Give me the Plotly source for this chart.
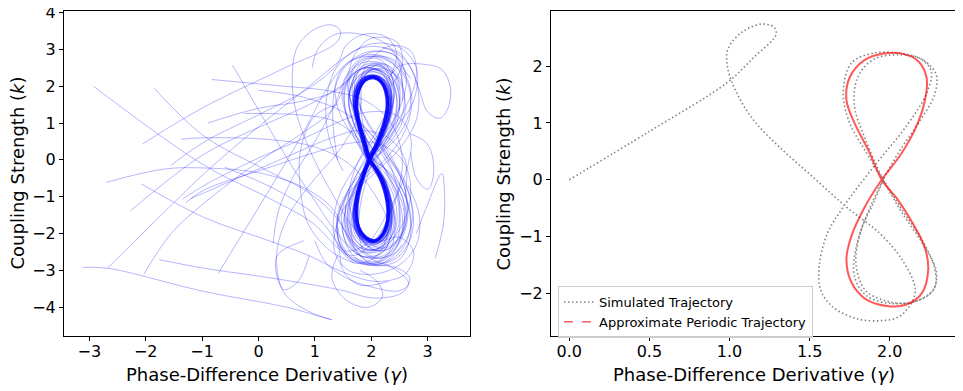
import plotly.graph_objects as go

# ---------------- left panel: many initial conditions (gamma, k) ----------------
core_loop = [(1.97, 0.0), (1.88, 0.5), (1.79, 1.0), (1.74, 1.45), (1.77, 1.85), (1.88, 2.15), (2.03, 2.24),
             (2.16, 2.14), (2.26, 1.85), (2.29, 1.45), (2.23, 0.95), (2.11, 0.45), (1.97, 0.0), (1.86, -0.45),
             (1.77, -0.95), (1.74, -1.45), (1.78, -1.85), (1.92, -2.13), (2.07, -2.19), (2.2, -2.0),
             (2.29, -1.6), (2.29, -1.15), (2.2, -0.6), (2.08, -0.25), (1.97, 0.0)]
core_loop_b = [(1.95, 0.02), (1.85, 0.55), (1.77, 1.05), (1.73, 1.5), (1.78, 1.9), (1.9, 2.17), (2.05, 2.22),
               (2.18, 2.1), (2.27, 1.8), (2.28, 1.4), (2.2, 0.9), (2.08, 0.4), (1.95, 0.02), (1.84, -0.5),
               (1.75, -1.0), (1.73, -1.5), (1.8, -1.9), (1.95, -2.15), (2.1, -2.17), (2.23, -1.95),
               (2.3, -1.55), (2.27, -1.05), (2.17, -0.55), (2.06, -0.2), (1.95, 0.02)]
core_loop_c = [(1.98, 0.0), (1.88, 0.5), (1.77, 1.0), (1.71, 1.45), (1.74, 1.88), (1.86, 2.18), (2.02, 2.27),
               (2.17, 2.17), (2.28, 1.88), (2.32, 1.45), (2.25, 0.95), (2.12, 0.45), (1.98, 0.0), (1.85, -0.45),
               (1.75, -0.95), (1.71, -1.45), (1.75, -1.88), (1.9, -2.16), (2.07, -2.22), (2.22, -2.03),
               (2.31, -1.62), (2.31, -1.15), (2.22, -0.6), (2.09, -0.25), (1.98, 0.0)]

near_a = [(1.97, 0.0), (1.86, 0.5), (1.75, 1.0), (1.69, 1.5), (1.73, 1.95), (1.86, 2.24), (2.03, 2.31),
          (2.2, 2.2), (2.31, 1.9), (2.34, 1.45), (2.27, 0.95), (2.13, 0.45), (1.97, 0.0), (1.84, -0.45),
          (1.73, -0.98), (1.68, -1.5), (1.73, -1.95), (1.89, -2.26), (2.07, -2.3), (2.24, -2.1), (2.34, -1.7),
          (2.34, -1.15), (2.24, -0.6), (2.1, -0.25), (1.97, 0.0)]
near_b = [(2.0, 0.0), (1.9, 0.5), (1.8, 1.05), (1.76, 1.5), (1.8, 1.92), (1.93, 2.2), (2.08, 2.28),
          (2.23, 2.17), (2.33, 1.88), (2.36, 1.45), (2.29, 0.95), (2.15, 0.45), (2.0, 0.0), (1.88, -0.45),
          (1.79, -1.0), (1.76, -1.5), (1.81, -1.92), (1.96, -2.2), (2.12, -2.25), (2.27, -2.05), (2.36, -1.65),
          (2.35, -1.15), (2.26, -0.6), (2.12, -0.25), (2.0, 0.0)]
near_c = [(1.93, 0.0), (1.83, 0.5), (1.74, 1.05), (1.69, 1.5), (1.72, 1.92), (1.84, 2.2), (1.99, 2.28),
          (2.13, 2.17), (2.23, 1.88), (2.26, 1.45), (2.2, 0.95), (2.07, 0.45), (1.93, 0.0), (1.81, -0.45),
          (1.72, -1.0), (1.68, -1.5), (1.72, -1.92), (1.87, -2.2), (2.03, -2.25), (2.18, -2.05), (2.27, -1.65),
          (2.26, -1.15), (2.17, -0.6), (2.04, -0.25), (1.93, 0.0)]

halo_a = [(1.97, 0.0), (1.83, 0.5), (1.68, 1.05), (1.6, 1.6), (1.67, 2.05), (1.85, 2.38), (2.05, 2.45),
          (2.26, 2.32), (2.42, 1.95), (2.45, 1.45), (2.35, 0.9), (2.16, 0.4), (1.97, 0.0), (1.8, -0.45),
          (1.66, -1.0), (1.6, -1.55), (1.66, -2.05), (1.86, -2.38), (2.08, -2.42), (2.3, -2.2), (2.44, -1.8),
          (2.44, -1.25), (2.32, -0.7), (2.14, -0.28), (1.97, 0.0)]
halo_b = [(1.95, 0.05), (1.75, 0.6), (1.56, 1.2), (1.48, 1.8), (1.58, 2.3), (1.82, 2.62), (2.08, 2.66),
          (2.36, 2.5), (2.55, 2.05), (2.58, 1.45), (2.45, 0.85), (2.2, 0.35), (1.95, 0.05), (1.74, -0.4),
          (1.55, -1.0), (1.47, -1.65), (1.56, -2.25), (1.82, -2.6), (2.1, -2.65), (2.38, -2.45), (2.56, -1.95),
          (2.57, -1.3), (2.4, -0.7), (2.18, -0.25), (1.95, 0.05)]
halo_c = [(1.9, 0.1), (1.72, 0.7), (1.55, 1.3), (1.52, 1.9), (1.68, 2.35), (1.95, 2.5), (2.2, 2.35),
          (2.35, 1.9), (2.35, 1.3), (2.2, 0.7), (2.02, 0.2), (1.88, -0.3), (1.78, -0.9), (1.72, -1.5),
          (1.78, -2.0), (1.98, -2.4), (2.25, -2.45), (2.5, -2.15), (2.62, -1.6), (2.55, -1.0), (2.32, -0.4),
          (2.08, 0.0), (1.9, 0.1)]
halo_d = [(2.0, 0.0), (1.9, 0.6), (1.82, 1.3), (1.8, 2.0), (1.9, 2.5), (2.08, 2.62), (2.25, 2.45),
          (2.35, 2.0), (2.33, 1.3), (2.2, 0.6), (2.05, 0.05), (1.9, -0.6), (1.8, -1.3), (1.78, -2.0),
          (1.88, -2.5), (2.06, -2.62), (2.24, -2.45), (2.35, -1.95), (2.33, -1.25), (2.18, -0.55), (2.0, 0.0)]
halo_e = [(1.4, 0.0), (1.32, 1.0), (1.35, 1.9), (1.55, 2.55), (1.9, 2.85), (2.3, 2.75), (2.6, 2.3),
          (2.72, 1.6), (2.6, 0.8), (2.3, 0.1), (1.95, -0.4), (1.6, -0.9), (1.4, -1.6), (1.45, -2.3),
          (1.7, -2.75), (2.1, -2.85), (2.5, -2.6), (2.72, -2.0), (2.72, -1.2), (2.5, -0.4), (2.2, 0.2)]
halo_f = [(2.05, -0.1), (2.25, 0.5), (2.42, 1.1), (2.45, 1.7), (2.3, 2.2), (2.05, 2.4), (1.8, 2.3),
          (1.62, 1.9), (1.62, 1.3), (1.78, 0.7), (2.0, 0.05), (2.2, -0.6), (2.38, -1.2), (2.42, -1.8),
          (2.25, -2.3), (1.98, -2.45), (1.72, -2.3), (1.58, -1.8), (1.6, -1.2), (1.78, -0.6), (2.05, -0.1)]
halo_g = [(1.5, -0.3), (1.25, 0.6), (1.2, 1.6), (1.38, 2.5), (1.75, 3.0), (2.2, 3.05), (2.6, 2.7),
          (2.82, 2.0), (2.8, 1.1), (2.5, 0.3), (2.1, -0.3), (1.7, -0.9), (1.4, -1.7), (1.35, -2.5),
          (1.6, -3.0), (2.05, -3.1), (2.5, -2.85), (2.8, -2.3), (2.85, -1.5), (2.65, -0.7)]
halo_h = [(1.96, 0.0), (1.84, 0.5), (1.72, 1.05), (1.67, 1.6), (1.73, 2.05), (1.88, 2.32), (2.05, 2.38),
          (2.22, 2.26), (2.35, 1.9), (2.38, 1.4), (2.3, 0.9), (2.14, 0.4), (1.96, 0.0), (1.82, -0.5),
          (1.7, -1.05), (1.66, -1.6), (1.72, -2.05), (1.9, -2.32), (2.08, -2.36), (2.26, -2.15), (2.37, -1.75),
          (2.37, -1.2), (2.26, -0.65), (2.1, -0.25), (1.96, 0.0)]
halo_i = [(1.93, -0.05), (1.83, 0.5), (1.74, 1.1), (1.72, 1.7), (1.82, 2.2), (2.02, 2.45), (2.25, 2.4),
          (2.42, 2.1), (2.5, 1.6), (2.45, 1.0), (2.25, 0.4), (2.02, 0.0), (1.82, -0.4), (1.65, -0.95),
          (1.58, -1.55), (1.64, -2.1), (1.84, -2.42), (2.05, -2.45), (2.22, -2.25), (2.32, -1.85),
          (2.32, -1.3), (2.2, -0.7), (2.05, -0.3), (1.93, -0.05)]
halo_j = [(1.9, 0.05), (1.72, 0.55), (1.58, 1.1), (1.52, 1.65), (1.58, 2.1), (1.76, 2.42), (1.98, 2.5),
          (2.18, 2.36), (2.32, 1.98), (2.35, 1.45), (2.25, 0.9), (2.08, 0.42), (1.9, 0.05), (1.74, -0.4),
          (1.6, -0.95), (1.53, -1.55), (1.6, -2.1), (1.8, -2.45), (2.02, -2.5), (2.22, -2.3), (2.35, -1.85),
          (2.35, -1.25), (2.22, -0.65), (2.06, -0.25), (1.9, 0.05)]
halo_k = [(2.05, 0.0), (1.93, 0.5), (1.8, 1.05), (1.74, 1.6), (1.8, 2.1), (1.98, 2.42), (2.2, 2.48),
          (2.42, 2.3), (2.56, 1.9), (2.6, 1.35), (2.48, 0.8), (2.26, 0.35), (2.05, 0.0), (1.9, -0.45),
          (1.78, -1.0), (1.74, -1.6), (1.82, -2.1), (2.02, -2.42), (2.25, -2.45), (2.45, -2.2), (2.58, -1.75),
          (2.58, -1.2), (2.45, -0.65), (2.24, -0.25), (2.05, 0.0)]
halo_l = [(1.98, 0.0), (1.85, 0.6), (1.72, 1.25), (1.66, 1.9), (1.74, 2.45), (1.95, 2.75), (2.18, 2.7),
          (2.35, 2.35), (2.4, 1.8), (2.32, 1.1), (2.15, 0.45), (1.98, 0.0), (1.82, -0.55), (1.7, -1.2),
          (1.64, -1.9), (1.72, -2.45), (1.94, -2.75), (2.18, -2.7), (2.36, -2.35), (2.42, -1.75),
          (2.33, -1.05), (2.16, -0.4), (1.98, 0.0)]
halo_m = [(1.95, 0.1), (1.65, 0.7), (1.42, 1.35), (1.36, 2.0), (1.52, 2.55), (1.85, 2.8), (2.2, 2.75),
          (2.5, 2.45), (2.68, 1.9), (2.66, 1.2), (2.45, 0.6), (2.15, 0.15), (1.85, -0.3), (1.58, -0.85),
          (1.4, -1.5), (1.42, -2.2), (1.65, -2.7), (2.0, -2.85), (2.35, -2.7), (2.6, -2.3), (2.7, -1.6),
          (2.58, -0.9), (2.3, -0.3), (1.95, 0.1)]
halo_n = [(2.05, 0.2), (1.85, 0.75), (1.68, 1.3), (1.62, 1.85), (1.72, 2.3), (1.95, 2.55), (2.2, 2.5),
          (2.4, 2.2), (2.5, 1.7), (2.45, 1.15), (2.28, 0.6), (2.05, 0.2), (1.85, -0.3), (1.7, -0.9),
          (1.62, -1.5), (1.68, -2.05), (1.88, -2.4), (2.12, -2.45), (2.34, -2.22), (2.48, -1.8),
          (2.48, -1.2), (2.34, -0.6), (2.18, -0.1), (2.05, 0.2)]

tr01 = [(-2.93, 2.0), (-0.97, -0.14), (0.2, -1.05), (0.95, -1.7), (1.45, -2.45), (1.85, -2.8), (2.3, -2.65),
        (2.55, -1.9), (2.45, -0.9), (2.15, 0.0), (1.8, 0.9), (1.68, 1.8), (1.9, 2.4), (2.25, 2.35), (2.4, 1.7),
        (2.25, 0.8)]
tr02 = [(-1.85, 1.94), (-0.97, 0.65), (0.1, -0.25), (0.9, -0.9), (1.4, -1.6), (1.7, -2.4), (2.05, -2.85),
        (2.5, -2.7), (2.7, -2.0), (2.6, -1.0), (2.25, 0.0), (1.85, 0.9), (1.6, 1.9), (1.75, 2.6), (2.15, 2.8),
        (2.5, 2.4), (2.55, 1.6)]
tr03 = [(-2.06, 0.43), (-0.97, 1.43), (0.4, 2.45), (1.39, 3.2), (1.45, 3.5), (1.3, 3.66), (1.0, 3.55),
        (0.7, 3.1), (0.6, 2.4), (0.65, 1.4), (0.9, 0.3), (1.3, -0.9), (1.75, -1.95), (2.2, -2.4), (2.55, -2.0),
        (2.62, -1.0), (2.35, 0.1), (1.95, 1.0), (1.7, 1.9), (1.85, 2.55), (2.3, 2.55), (2.5, 1.9)]
tr04 = [(-0.83, 2.18), (0.3, 2.02), (1.3, 1.86), (1.9, 1.6), (2.35, 1.0), (2.55, 0.0), (2.4, -1.2),
        (2.05, -2.2), (1.65, -2.6), (1.35, -2.1), (1.4, -1.1), (1.75, -0.1), (2.2, 0.9), (2.42, 1.9),
        (2.2, 2.55), (1.8, 2.45), (1.6, 1.7), (1.75, 0.7)]
tr05 = [(-0.46, 2.57), (0.56, -0.09), (0.95, -1.0), (1.35, -1.9), (1.8, -2.6), (2.3, -2.6), (2.62, -1.8),
        (2.6, -0.8), (2.25, 0.25), (1.88, 1.15), (1.75, 2.05), (2.05, 2.55), (2.45, 2.25), (2.5, 1.35)]
tr06 = [(-2.7, -0.61), (-1.68, -0.25), (-0.97, -0.22), (0.0, -0.35), (0.8, -0.75), (1.3, -1.3), (1.6, -2.1),
        (2.0, -2.65), (2.45, -2.5), (2.72, -1.7), (2.6, -0.6), (2.2, 0.3), (1.75, 1.2), (1.58, 2.1),
        (1.85, 2.75), (2.35, 2.75), (2.7, 2.2)]
tr07 = [(-2.08, -0.65), (-0.97, -1.56), (0.1, -2.15), (0.9, -2.6), (1.5, -3.05), (2.1, -3.3), (2.6, -3.1),
        (2.75, -2.5), (2.5, -2.1), (2.1, -2.2), (1.75, -1.8), (1.6, -1.0), (1.75, -0.1), (2.1, 0.8),
        (2.35, 1.7), (2.2, 2.4), (1.85, 2.5)]
tr08 = [(-2.27, -1.38), (-0.97, 0.15), (0.1, 0.95), (0.9, 1.5), (1.5, 2.05), (1.95, 2.7), (2.35, 3.1),
        (2.7, 2.95), (2.8, 2.3), (2.6, 1.4), (2.25, 0.6), (1.9, -0.2), (1.6, -1.1), (1.5, -2.0), (1.75, -2.7),
        (2.2, -2.8), (2.55, -2.3)]
tr09 = [(-1.35, -1.07), (-0.97, -0.7), (0.0, 0.05), (0.9, 0.65), (1.45, 1.05), (1.95, 1.3), (2.45, 1.2),
        (2.7, 0.6), (2.6, -0.4), (2.3, -1.4), (1.9, -2.3), (1.5, -2.45), (1.4, -1.7), (1.6, -0.8)]
tr10 = [(-1.29, -1.16), (-0.97, -0.82), (0.1, -0.25), (1.0, 0.2), (1.6, 0.45), (2.1, 0.45), (2.55, 0.0),
        (2.7, -0.9), (2.5, -1.9), (2.1, -2.5), (1.7, -2.4), (1.55, -1.6)]
tr11 = [(-2.68, -2.94), (-1.5, -1.16), (-0.97, -0.38), (0.0, 0.9), (0.9, 2.0), (1.5, 2.75), (2.0, 3.15),
        (2.5, 3.05), (2.8, 2.5), (2.75, 1.6), (2.45, 0.9), (2.1, 0.2)]
tr12 = [(-2.03, -3.09), (-1.55, -2.0), (-0.97, -1.18), (0.0, -0.05), (0.8, 0.75), (1.3, 1.35), (1.55, 2.1),
        (1.7, 2.85), (2.0, 3.3), (2.45, 3.2), (2.55, 2.6), (2.35, 2.0)]
tr13 = [(-1.76, -2.71), (-0.97, -2.94), (0.2, -3.2), (1.45, -3.53), (2.05, -3.75), (2.55, -3.6),
        (2.68, -3.2), (2.4, -2.9), (1.95, -2.85), (1.55, -2.5), (1.4, -1.8)]
tr14 = [(-3.12, -2.92), (-2.68, -2.94), (-0.97, -3.57), (0.5, -4.0), (1.3, -4.34), (0.9, -4.12),
        (0.45, -3.6), (0.32, -2.6), (0.5, -1.6), (0.95, -0.6), (1.45, 0.3), (1.8, 1.3), (1.85, 2.2),
        (2.15, 2.6), (2.5, 2.2)]
tr15 = [(-0.71, -3.07), (0.44, -0.18), (0.85, 0.9), (1.2, 1.9), (1.55, 2.6), (2.0, 2.95), (2.45, 2.8),
        (2.62, 2.2), (2.5, 1.4), (2.2, 0.6)]
tr16 = [(-0.25, 1.26), (0.74, 1.22), (1.35, 1.05), (1.75, 0.6), (2.05, 0.0), (2.3, -0.8), (2.4, -1.7),
        (2.2, -2.5), (1.8, -2.6), (1.55, -2.0), (1.55, -1.2)]
tr17 = [(0.26, -2.26), (0.35, -1.4), (0.6, -0.5), (1.0, 0.5), (1.35, 1.5), (1.6, 2.4), (1.95, 2.9),
        (2.4, 2.85), (2.62, 2.3)]
tr18 = [(-1.56, -0.16), (-0.97, 0.48), (0.1, 1.3), (0.9, 1.95), (1.4, 2.6), (1.55, 3.1), (1.85, 3.4),
        (2.25, 3.35), (2.45, 2.9), (2.35, 2.3)]
tr19 = [(-1.37, 0.56), (-0.97, 0.6), (0.2, 0.55), (1.0, 0.35), (1.6, -0.1), (2.0, -0.8), (2.3, -1.8),
        (2.1, -2.6), (1.7, -2.8), (1.4, -2.3)]
tr20 = [(0.0, 1.89), (0.8, 1.7), (1.5, 1.3), (2.0, 0.7), (2.35, -0.2), (2.5, -1.2), (2.45, -2.2),
        (2.1, -2.8), (1.7, -2.65)]
tr21 = [(-1.2, -1.05), (-0.3, -0.45), (0.6, 0.15), (1.3, 0.6), (1.8, 0.8), (2.3, 0.6), (2.6, 0.0),
        (2.6, -1.0)]
tr22 = [(-0.6, -0.2), (0.3, -0.8), (1.0, -1.5), (1.4, -2.3), (1.5, -3.0), (1.8, -3.4), (2.3, -3.3)]
tr23 = [(-0.9, 1.0), (0.0, 1.4), (0.8, 1.6), (1.4, 1.9), (1.7, 2.4)]

loop_top = [(0.95, 2.5), (1.05, 3.0), (1.35, 3.4), (1.85, 3.4), (2.3, 3.1), (2.5, 2.6), (2.55, 2.0)]
loop_right = [(2.3, 2.2), (2.5, 2.55), (2.9, 2.6), (3.25, 2.45), (3.4, 1.98), (3.37, 1.44), (3.22, 1.13),
              (3.0, 1.3), (2.85, 1.9), (2.7, 2.5), (2.5, 2.9), (2.2, 3.05)]
loop_right_b = [(2.7, 0.7), (2.95, 0.5), (3.07, 0.18), (3.1, -0.45), (3.0, -0.8), (2.8, -0.5), (2.7, 0.2)]
loop_right_c = [(2.8, -2.0), (3.0, -1.2), (3.25, -0.37), (3.3, -1.0), (3.28, -1.72), (3.2, -2.3),
                (3.13, -2.67)]
loop_bottom = [(1.4, -2.6), (1.3, -3.2), (1.55, -3.8), (1.95, -4.0), (2.2, -3.7), (2.1, -3.3), (1.8, -3.0)]
loop_bottom_b = [(2.0, -2.7), (2.45, -3.0), (2.66, -3.35), (2.5, -3.55), (2.0, -3.45), (1.55, -3.2),
                 (1.2, -2.8), (1.0, -2.2)]
loop_left = [(1.4, 1.5), (1.0, 1.2), (0.75, 0.3), (0.75, -0.9), (0.9, -1.8), (1.3, -2.5), (1.7, -2.8)]
loop_left_b = [(0.8, -2.2), (0.32, -2.62), (0.44, -3.52), (0.7, -3.3), (0.9, -2.6)]

thin_paths = [halo_a, halo_b, halo_c, halo_d, halo_e, halo_f, halo_g, halo_h, halo_i, halo_j,
              halo_k, halo_l, halo_m, halo_n,
              tr01, tr02, tr03, tr04, tr05, tr06, tr07, tr08, tr09, tr10, tr11, tr12,
              tr13, tr14, tr15, tr16, tr17, tr18, tr19, tr20, tr21, tr22, tr23,
              loop_top, loop_right, loop_right_b, loop_right_c,
              loop_bottom, loop_bottom_b, loop_left, loop_left_b]
near_paths = [near_a, near_b, near_c]
core_paths = [core_loop_c, core_loop_b, core_loop]

# ---------------- right panel: one simulated trajectory vs periodic orbit ----------------
sim_path = [(0.0, 0.0), (0.5, 0.85), (0.99, 1.72), (1.15, 2.15), (1.29, 2.55), (1.28, 2.68), (1.2, 2.74),
            (1.08, 2.6), (0.99, 2.3), (0.99, 1.95), (1.05, 1.5), (1.15, 1.05), (1.31, 0.58), (1.52, 0.05),
            (1.73, -0.48), (1.94, -0.95), (2.08, -1.42), (2.16, -1.94), (2.12, -2.24), (2.05, -2.42),
            (1.95, -2.48), (1.8, -2.45), (1.65, -2.25), (1.57, -1.95), (1.56, -1.53), (1.61, -0.95),
            (1.71, -0.48), (1.9, 0.23), (2.1, 0.93), (2.23, 1.52), (2.26, 1.9), (2.2, 2.12), (2.07, 2.22),
            (1.9, 2.23), (1.76, 2.05), (1.71, 1.52), (1.75, 1.0), (1.85, 0.5), (1.96, 0.0), (2.07, -0.5),
            (2.2, -1.05), (2.28, -1.55), (2.28, -1.9), (2.18, -2.12), (2.02, -2.18), (1.86, -2.05),
            (1.78, -1.7), (1.79, -1.2), (1.86, -0.6), (1.96, 0.0), (2.06, 0.5), (2.18, 1.0), (2.28, 1.5),
            (2.29, 1.85), (2.2, 2.12), (2.05, 2.2), (1.9, 2.12), (1.8, 1.8), (1.78, 1.3), (1.85, 0.7),
            (1.96, 0.0), (2.07, -0.55), (2.2, -1.1), (2.29, -1.6), (2.27, -1.95), (2.15, -2.15),
            (2.0, -2.15), (1.85, -1.95), (1.79, -1.5), (1.82, -0.9), (1.9, -0.4), (1.96, 0.0)]
periodic_loop = [(1.95, 0.0), (1.87, 0.5), (1.78, 1.0), (1.73, 1.4), (1.75, 1.8), (1.84, 2.1), (1.96, 2.22),
                 (2.08, 2.22), (2.18, 2.08), (2.23, 1.8), (2.22, 1.4), (2.16, 0.9), (2.07, 0.45), (1.95, 0.0),
                 (1.84, -0.5), (1.76, -1.0), (1.73, -1.4), (1.76, -1.8), (1.85, -2.1), (1.98, -2.22),
                 (2.1, -2.2), (2.2, -2.0), (2.24, -1.6), (2.22, -1.2), (2.14, -0.75), (2.05, -0.35), (1.95, 0.0)]


def xs(path):
    return [p[0] for p in path]


def ys(path):
    return [p[1] for p in path]


# the page puts the figure 8 px in from the top-left corner, so place everything in screen pixels minus 8
W, H, OFF = 963, 391, 8


def px_x(p):
    return (p - OFF) / W


def px_y(p):
    return 1 - (p - OFF) / H


fig = go.Figure()

for path in thin_paths:
    fig.add_trace(go.Scatter(x=xs(path), y=ys(path), mode='lines', showlegend=False,
                             line=dict(color='rgba(0,0,255,0.32)', width=0.9, shape='spline', smoothing=1.0),
                             xaxis='x', yaxis='y', hoverinfo='skip'))
for path in near_paths:
    fig.add_trace(go.Scatter(x=xs(path), y=ys(path), mode='lines', showlegend=False,
                             line=dict(color='rgba(0,0,255,0.45)', width=1.3, shape='spline', smoothing=1.0),
                             xaxis='x', yaxis='y', hoverinfo='skip'))
for path in core_paths:
    fig.add_trace(go.Scatter(x=xs(path), y=ys(path), mode='lines', showlegend=False,
                             line=dict(color='rgba(0,0,255,0.7)', width=3, shape='spline', smoothing=1.0),
                             xaxis='x', yaxis='y', hoverinfo='skip'))

fig.add_trace(go.Scatter(x=xs(sim_path), y=ys(sim_path), mode='lines', name='Simulated Trajectory',
                         line=dict(color='rgba(100,100,100,0.8)', width=1.6, dash='1.5px,2.5px',
                                   shape='spline', smoothing=1.0),
                         xaxis='x2', yaxis='y2'))
fig.add_trace(go.Scatter(x=xs(periodic_loop), y=ys(periodic_loop), mode='lines', showlegend=False,
                         line=dict(color='rgba(255,0,0,0.65)', width=2, shape='spline', smoothing=1.0),
                         xaxis='x2', yaxis='y2'))
fig.add_trace(go.Scatter(x=[None], y=[None], mode='lines', name='Approximate Periodic Trajectory',
                         line=dict(color='rgba(255,0,0,0.65)', width=1.5, dash='dash'),
                         xaxis='x2', yaxis='y2'))

axis_style = dict(showline=True, mirror=True, linecolor='black', linewidth=1, ticks='outside',
                  ticklen=4, tickcolor='black', showgrid=False, zeroline=False,
                  tickfont=dict(size=16, color='black'), automargin=False, ticklabeloverflow='allow')

x_title = 'Phase-Difference Derivative (<i>γ</i>)'
y_title = 'Coupling Strength (<i>k</i>)'

fig.update_layout(
    width=W, height=H,
    margin=dict(l=0, r=0, t=0, b=0),
    paper_bgcolor='white', plot_bgcolor='white',
    font=dict(family='DejaVu Sans', color='black'),
    xaxis=dict(domain=[px_x(64), px_x(470)], range=[-3.45, 3.75], tickvals=[-3, -2, -1, 0, 1, 2, 3],
               ticklabelstandoff=-3, anchor='y', **axis_style),
    yaxis=dict(domain=[px_y(336), px_y(11)], range=[-4.78, 4.04], tickvals=[-4, -3, -2, -1, 0, 1, 2, 3, 4],
               anchor='x', **axis_style),
    xaxis2=dict(domain=[px_x(551), px_x(957)], range=[-0.114, 2.42], tickvals=[0, 0.5, 1, 1.5, 2],
                tickformat='.1f', ticklabelstandoff=-3, anchor='y2', **axis_style),
    yaxis2=dict(domain=[px_y(336), px_y(11)], range=[-2.75, 2.97], tickvals=[-2, -1, 0, 1, 2],
                anchor='x2', **axis_style),
    legend=dict(x=px_x(558), y=px_y(286), xanchor='left', yanchor='top', font=dict(size=13),
                bgcolor='rgba(255,255,255,0.8)', bordercolor='#cccccc', borderwidth=1,
                tracegroupgap=0, itemwidth=30),
    annotations=[
        dict(text=x_title, x=px_x(267), y=px_y(374), xref='paper', yref='paper', showarrow=False,
             xanchor='center', yanchor='middle', font=dict(size=18)),
        dict(text=x_title, x=px_x(754), y=px_y(374), xref='paper', yref='paper', showarrow=False,
             xanchor='center', yanchor='middle', font=dict(size=18)),
        dict(text=y_title, x=px_x(17), y=px_y(173.5), xref='paper', yref='paper', showarrow=False,
             textangle=-90, xanchor='center', yanchor='middle', font=dict(size=18)),
        dict(text=y_title, x=px_x(503), y=px_y(173.5), xref='paper', yref='paper', showarrow=False,
             textangle=-90, xanchor='center', yanchor='middle', font=dict(size=18)),
    ],
)

fig.write_html("out.html")
